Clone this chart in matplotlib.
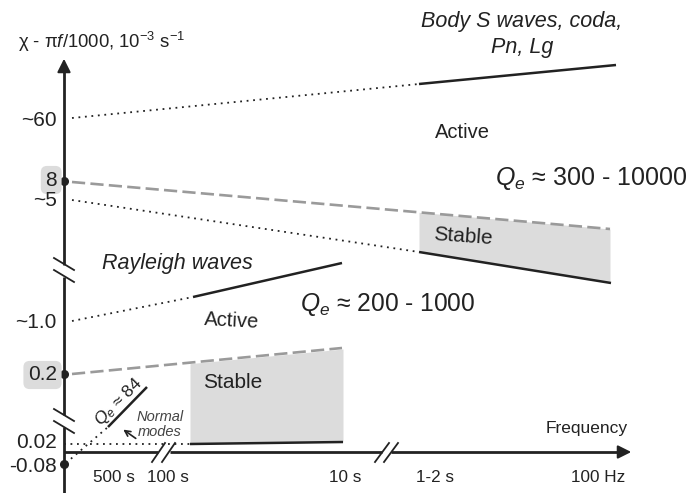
import numpy as np
import matplotlib
matplotlib.use('Agg')
import matplotlib.pyplot as plt

plt.rcParams['font.family'] = ['Liberation Sans', 'DejaVu Sans']
plt.rcParams['mathtext.fontset'] = 'custom'
plt.rcParams['mathtext.rm'] = 'Liberation Sans'
plt.rcParams['mathtext.it'] = 'Liberation Sans:italic'

# schematic, coordinates in diagram units (0..686 x 0..493, y downwards)
ytick_labels = ['~60', '8', '~5', '~1.0', '0.2', '0.02', '-0.08']
ytick_pos = [120, 180, 200, 322, 375, 443, 466]
boxed = ['8', '0.2']
dot_pos = [181, 374, 464]

xtick_labels = ['500 s', '100 s', '10 s', '1-2 s', '100 Hz']
xtick_pos = [114, 168, 345, 435, 598]

# body waves
body_dot_x, body_dot_y = [72, 419], [118, 84]
body_sol_x, body_sol_y = [419, 616], [84, 65]
up_dash_x, up_dash_y = [72, 610], [182, 229]
up_dot_x, up_dot_y = [72, 419], [200, 252]
up_sol_x, up_sol_y = [419, 611], [252, 283]
up_stable_x = [419, 610]

# Rayleigh waves
ray_dot_x, ray_dot_y = [72, 193], [321, 297]
ray_sol_x, ray_sol_y = [193, 342], [297, 263]
low_dash_x, low_dash_y = [72, 342], [374, 348]
low_sol_x, low_sol_y = [190, 343], [444, 442]
low_stable_x = [190, 343]

# normal modes
nm_dot_x, nm_dot_y = [66, 108], [463, 427]
nm_sol_x, nm_sol_y = [108, 147], [427, 387]
nm_flat_x, nm_flat_y = [64, 190], [444, 444]

ink = '#222222'
grey = '#9a9a9a'
fill = '#dcdcdc'

fig = plt.figure(figsize=(6.86, 4.93), dpi=100)
ax = fig.add_axes([0, 0, 1, 1])
ax.set_xlim(0, 686)
ax.set_ylim(493, 0)
ax.axis('off')

dotted = dict(color=ink, lw=1.3, ls=(0, (1, 2.6)))
solid = dict(color=ink, lw=1.8, solid_capstyle='butt')
dashed = dict(color=grey, lw=1.9, ls=(0, (5, 2)))

# stable regions
xs = np.array(up_stable_x)
ax.fill_between(xs, np.interp(xs, up_dash_x, up_dash_y), np.interp(xs, up_sol_x, up_sol_y),
                color=fill, lw=0, zorder=0)
xs = np.array(low_stable_x)
ax.fill_between(xs, np.interp(xs, low_dash_x, low_dash_y) + 1, np.interp(xs, low_sol_x, low_sol_y),
                color=fill, lw=0, zorder=0)

ax.plot(body_dot_x, body_dot_y, **dotted)
ax.plot(body_sol_x, body_sol_y, **solid)
ax.plot(up_dash_x, up_dash_y, **dashed)
ax.plot(up_dot_x, up_dot_y, **dotted)
ax.plot(up_sol_x, up_sol_y, **solid)
ax.plot(ray_dot_x, ray_dot_y, **dotted)
ax.plot(ray_sol_x, ray_sol_y, **solid)
ax.plot(low_dash_x, low_dash_y, **dashed)
ax.plot(low_sol_x, low_sol_y, **solid)
ax.plot(nm_dot_x, nm_dot_y, **dotted)
ax.plot(nm_sol_x, nm_sol_y, **solid)
ax.plot(nm_flat_x, nm_flat_y, **dotted)

# axes with breaks
axis_kw = dict(color=ink, lw=2.0, solid_capstyle='butt')
ax.plot([64, 64], [493, 427], **axis_kw)
ax.plot([64, 64], [415, 277], **axis_kw)
ax.plot([64, 64], [265, 66], **axis_kw)
ax.annotate('', xy=(64, 56), xytext=(64, 70),
            arrowprops=dict(arrowstyle='-|>', color=ink, lw=1.5, mutation_scale=20))
ax.plot([64, 158], [452, 452], **axis_kw)
ax.plot([170, 382], [452, 452], **axis_kw)
ax.plot([391, 622], [452, 452], **axis_kw)
ax.annotate('', xy=(634, 452), xytext=(620, 452),
            arrowprops=dict(arrowstyle='-|>', color=ink, lw=1.5, mutation_scale=20))

brk = dict(color=ink, lw=1.3)
for y0 in [258, 270]:
    ax.plot([54, 74], [y0, y0 + 12], **brk)
for y0 in [409, 421]:
    ax.plot([54, 74], [y0, y0 + 12], **brk)
for x0 in [152, 162]:
    ax.plot([x0, x0 + 13], [462, 443], **brk)
for x0 in [375, 384]:
    ax.plot([x0, x0 + 14], [462, 443], **brk)

ax.plot([64] * len(dot_pos), dot_pos, 'o', color=ink, ms=5.5)

for lab, yp in zip(ytick_labels, ytick_pos):
    bb = dict(boxstyle='round,pad=0.22,rounding_size=0.3', fc=fill, ec='none') if lab in boxed else None
    ax.text(57, yp, lab, ha='right', va='center', fontsize=15, color=ink, bbox=bb)

for lab, xp in zip(xtick_labels, xtick_pos):
    ax.text(xp, 478, lab, ha='center', va='center', fontsize=12.3, color=ink)

ax.text(18, 42, 'χ - π$f$/1000, 10$^{-3}$ s$^{-1}$', ha='left', va='center', fontsize=13.3, color=ink)
ax.text(587, 429, 'Frequency', ha='center', va='center', fontsize=12.5, color=ink)

ax.text(522, 22, 'Body S waves, coda,', ha='center', va='center', fontsize=15.5, style='italic', color=ink)
ax.text(522, 47, 'Pn, Lg', ha='center', va='center', fontsize=15.5, style='italic', color=ink)
ax.text(462, 133, 'Active', ha='center', va='center', fontsize=14.5, color=ink)
ax.text(495, 178, '$Q_e$ ≈ 300 - 10000', ha='left', va='center', fontsize=18, color=ink)
ax.text(463, 237, 'Stable', ha='center', va='center', fontsize=15, color=ink, rotation=-4)

ax.text(177, 263, 'Rayleigh waves', ha='center', va='center', fontsize=15.5, style='italic', color=ink)
ax.text(300, 305, '$Q_e$ ≈ 200 - 1000', ha='left', va='center', fontsize=17.7, color=ink)
ax.text(232, 321, 'Active', ha='center', va='center', fontsize=14.5, color=ink, rotation=-3)
ax.text(233, 382, 'Stable', ha='center', va='center', fontsize=15, color=ink)

ax.text(119, 402, '$Q_e$ ≈ 84', ha='center', va='center', fontsize=12.5, color=ink, rotation=45)
ax.text(160, 417, 'Normal', ha='center', va='center', fontsize=10.5, style='italic', color='#444444')
ax.text(160, 432, 'modes', ha='center', va='center', fontsize=10.5, style='italic', color='#444444')
ax.annotate('', xy=(121, 428), xytext=(138, 440),
            arrowprops=dict(arrowstyle='->', color=ink, lw=1.2))

fig.savefig('out.png', dpi=100)
